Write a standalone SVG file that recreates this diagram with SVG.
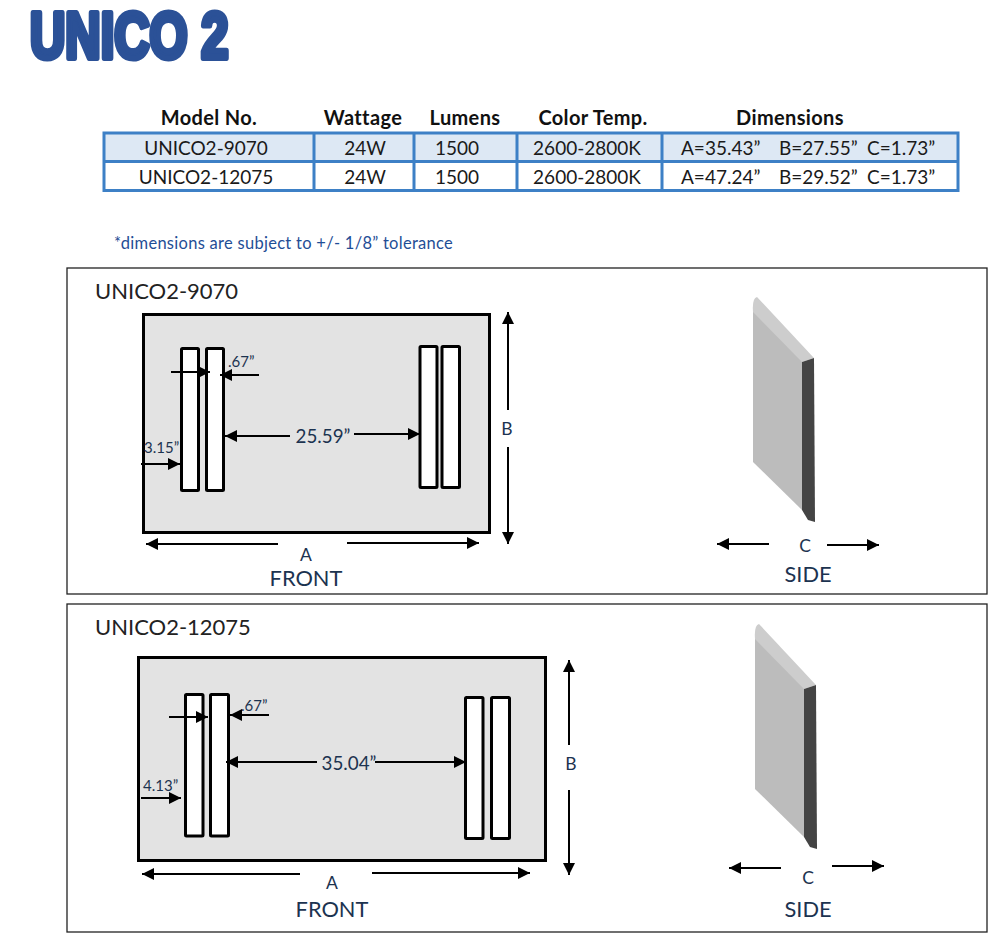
<svg xmlns="http://www.w3.org/2000/svg" width="1005" height="941" viewBox="0 0 1005 941">
<style>
text{font-family:"Lato","Open Sans","Liberation Sans",sans-serif;fill:#1a1a1a}
.h{font-size:20px;font-weight:700;text-anchor:middle;fill:#111;letter-spacing:.35px}
.c{font-size:19px;text-anchor:middle}
.t{font-family:"Liberation Sans",Arial,sans-serif;font-weight:700;font-size:64px;fill:#2b5197;stroke:#2b5197;stroke-width:6;stroke-linejoin:round}
.n{font-size:16.5px;fill:#1f4e96;letter-spacing:.28px}
.p{fill:none;stroke:#222;stroke-width:1.3}
.m{font-size:22px;fill:#222}
.bd{fill:#e3e3e3;stroke:#000;stroke-width:3}
.s{fill:#fff;stroke:#000;stroke-width:3}
.d{font-size:18.800px;text-anchor:middle;fill:#1c3350}
.sm{font-size:15px;fill:#1c3350}
.lb{font-size:17.500px;text-anchor:middle;fill:#1c3350}
.big{font-size:21.800px;text-anchor:middle;fill:#1c3350}
.a{fill:none;stroke:#000;stroke-width:2;marker-end:url(#ah)}
.g{stroke:#3d80c6;stroke-width:3;fill:none}
</style>
<defs>
<marker id="ah" markerUnits="userSpaceOnUse" markerWidth="13" markerHeight="13" refX="12" refY="6.500" orient="auto"><path d="M0 .5L12 6.500L0 12.500z" fill="#000"/></marker>
<g id="panelside">
<path d="M753 305L802 361V510L753 462z" fill="#bcbcbc"/>
<path d="M753 312Q752 298 757 297L814 358L802 362L753 312z" fill="#cdcdcd"/>
<path d="M802 362L814 358L815 522L808 520L802 510z" fill="#444"/>
</g>
</defs>
<g id="title"><text class="t" x="30" y="58" transform="translate(30 0) scale(.8 1) translate(-30 0)" textLength="248" lengthAdjust="spacingAndGlyphs">UNICO 2</text></g>
<g id="spec-table">
<rect x="104" y="133" width="854" height="28" fill="#dde8f4"/>
<rect class="g" x="104" y="133" width="854" height="57.500"/>
<path class="g" d="M104 161.500H958M314 133V190M414 133V190M517 133V190M662 133V190"/>
<text class="h" x="209" y="125">Model No.</text>
<text class="h" x="363" y="125">Wattage</text>
<text class="h" x="465" y="125">Lumens</text>
<text class="h" x="593" y="125">Color Temp.</text>
<text class="h" x="790" y="125">Dimensions</text>
<text class="c" x="206" y="154.500">UNICO2-9070</text>
<text class="c" x="365" y="154.500">24W</text>
<text class="c" x="457" y="154.500">1500</text>
<text class="c" x="587" y="154.500">2600-2800K</text>
<text class="c" x="681" y="154.500" style="text-anchor:start">A=35.43”</text>
<text class="c" x="779" y="154.500" style="text-anchor:start">B=27.55”</text>
<text class="c" x="867" y="154.500" style="text-anchor:start">C=1.73”</text>
<text class="c" x="206" y="183.500">UNICO2-12075</text>
<text class="c" x="365" y="183.500">24W</text>
<text class="c" x="457" y="183.500">1500</text>
<text class="c" x="587" y="183.500">2600-2800K</text>
<text class="c" x="681" y="183.500" style="text-anchor:start">A=47.24”</text>
<text class="c" x="779" y="183.500" style="text-anchor:start">B=29.52”</text>
<text class="c" x="867" y="183.500" style="text-anchor:start">C=1.73”</text>
</g>
<g id="note"><text class="n" x="114" y="249">*dimensions are subject to +/- 1/8” tolerance</text></g>
<g id="panel-9070">
<rect class="p" x="67" y="268" width="920" height="326"/>
<text class="m" x="95" y="299">UNICO2-9070</text>
<rect class="bd" x="143.500" y="314.500" width="346" height="218"/>
<rect class="s" x="181.500" y="348.500" width="17" height="142" rx="1"/>
<rect class="s" x="206.500" y="348.500" width="17" height="142" rx="1"/>
<rect class="s" x="420" y="346.500" width="17" height="141" rx="1"/>
<rect class="s" x="442" y="346.500" width="17.500" height="141" rx="1"/>
<text class="sm" x="228" y="367">.67”</text>
<text class="sm" x="144" y="453">3.15”</text>
<text class="d" x="323" y="443">25.59”</text>
<text class="lb" x="507" y="435">B</text>
<text class="lb" x="306" y="561">A</text>
<text class="big" x="306" y="586">FRONT</text>
<use href="#panelside"/>
<text class="lb" x="805" y="552">C</text>
<text class="big" x="808" y="582">SIDE</text>
</g>
<g id="panel-12075">
<rect class="p" x="67" y="604" width="920" height="328"/>
<text class="m" x="95" y="635">UNICO2-12075</text>
<rect class="bd" x="138.500" y="657.500" width="407" height="203"/>
<rect class="s" x="185.500" y="694.500" width="17.500" height="141.500" rx="1"/>
<rect class="s" x="210.500" y="694.500" width="18" height="141.500" rx="1"/>
<rect class="s" x="465.500" y="697.500" width="17.500" height="141" rx="1"/>
<rect class="s" x="491.500" y="697.500" width="18" height="141" rx="1"/>
<text class="sm" x="241" y="711">.67”</text>
<text class="sm" x="143" y="791">4.13”</text>
<text class="d" x="349" y="770">35.04”</text>
<text class="lb" x="571" y="770">B</text>
<text class="lb" x="332" y="889">A</text>
<text class="big" x="332" y="917">FRONT</text>
<use href="#panelside" x="2" y="327"/>
<text class="lb" x="808" y="884">C</text>
<text class="big" x="808" y="917">SIDE</text>
</g>
<g id="connectors">
<path class="a" d="M171 372H210"/><path class="a" d="M259 375H220"/>
<path class="a" d="M290 436H225"/><path class="a" d="M354 434H420"/>
<path class="a" d="M141 464H180"/>
<path class="a" d="M278 544H146"/><path class="a" d="M347 543H479"/>
<path class="a" d="M508 410V312"/><path class="a" d="M508 447V544"/>
<path class="a" d="M769 544H717"/><path class="a" d="M827 545H879"/>
<path class="a" d="M169 717H208"/><path class="a" d="M269 715H230"/>
<path class="a" d="M317 762H226"/><path class="a" d="M375 762H466"/>
<path class="a" d="M141 798H181"/>
<path class="a" d="M300 874H142"/><path class="a" d="M372 873H530"/>
<path class="a" d="M569 745V660"/><path class="a" d="M569 790V875"/>
<path class="a" d="M781 868H729"/><path class="a" d="M832 866H884"/>
</g>
</svg>
